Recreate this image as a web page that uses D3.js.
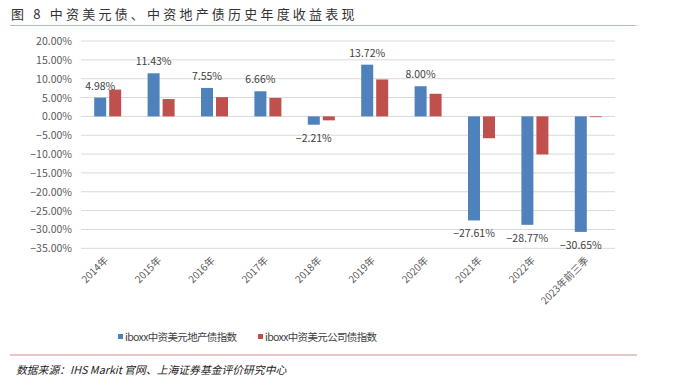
<html>
<script src="https://d3js.org/d3.v7.min.js"></script>
<body style="margin:0;background:#fff;">
<svg id="chart" width="690" height="384"></svg>
<script>
    // 年份与两条指数的年度收益 (%)
    let categories = ["2014年", "2015年", "2016年", "2017年", "2018年", "2019年", "2020年", "2021年", "2022年", "2023年前三季"];
    let realEstate = [4.98, 11.43, 7.55, 6.66, -2.21, 13.72, 8.00, -27.61, -28.77, -30.65];
    let corporate = [7.1, 4.6, 5.1, 4.9, -1.05, 9.8, 6.0, -5.8, -10.1, -0.15];
    let seriesNames = ["iboxx中资美元地产债指数", "iboxx中资美元公司债指数"];
    let yTicks = [20, 15, 10, 5, 0, -5, -10, -15, -20, -25, -30, -35];

    let colors = ["#4F81BD", "#C0504D"];
    let cjk = "'Noto Sans CJK SC', sans-serif";

    let svg = d3.select("#chart");

    // 标题
    svg.append("text")
        .attr("x", 11).attr("y", 19)
        .style("font-family", cjk).style("font-size", "13px").style("font-weight", "400")
        .style("letter-spacing", "3.2px")
        .attr("fill", "#333")
        .text("图 8 中资美元债、中资地产债历史年度收益表现");
    svg.append("line").attr("x1", 10).attr("x2", 636).attr("y1", 25.5).attr("y2", 25.5)
        .attr("stroke", "#e8a8a8").attr("stroke-width", 1.2);

    let x = d3.scaleBand().domain(categories).range([81, 615]);
    let y = d3.scaleLinear().domain([-35, 20]).range([248.3, 41]);

    // 网格线
    svg.append("g").selectAll("line").data(yTicks).join("line")
        .attr("x1", 81).attr("x2", 615)
        .attr("y1", d => y(d)).attr("y2", d => y(d))
        .attr("stroke", "#d9d9d9").attr("stroke-width", 1);

    // y 轴标签
    svg.append("g").selectAll("text").data(yTicks).join("text")
        .attr("x", 72).attr("y", d => y(d) + 4)
        .attr("text-anchor", "end")
        .style("font-family", cjk).style("font-size", "10.5px")
        .attr("fill", "#595959")
        .text(d => d3.format(".2f")(d) + "%");

    let barW = 12, gap = 3;
    let groups = [realEstate, corporate];
    groups.forEach((vals, i) => {
        svg.append("g").selectAll("rect").data(vals).join("rect")
            .attr("x", (d, j) => x(categories[j]) + x.bandwidth() / 2 - barW - gap / 2 + i * (barW + gap))
            .attr("width", barW)
            .attr("y", d => y(Math.max(0, d)))
            .attr("height", d => Math.max(0.8, Math.abs(y(d) - y(0))))
            .attr("fill", colors[i]);
    });

    // 数据标签 (地产债)
    svg.append("g").selectAll("text").data(realEstate).join("text")
        .attr("x", (d, j) => x(categories[j]) + x.bandwidth() / 2 - barW / 2 - gap / 2)
        .attr("y", d => d >= 0 ? y(d) - 8 : y(d) + 17)
        .attr("text-anchor", "middle")
        .style("font-family", cjk).style("font-size", "10.5px")
        .attr("fill", "#404040")
        .text(d => d3.format(".2f")(d) + "%");

    // x 轴标签
    svg.append("g").selectAll("text").data(categories).join("text")
        .attr("transform", d => `translate(${x(d) + x.bandwidth() / 2 + 1},${261}) rotate(-45)`)
        .attr("text-anchor", "end")
        .style("font-family", cjk).style("font-size", "10px")
        .attr("fill", "#595959")
        .text(d => d);

    // 图例
    let legendX = [118, 258];
    seriesNames.forEach((name, i) => {
        svg.append("rect").attr("x", legendX[i]).attr("y", 334).attr("width", 5).attr("height", 5).attr("fill", colors[i]);
        svg.append("text").attr("x", legendX[i] + 7).attr("y", 341)
            .style("font-family", cjk).style("font-size", "10.5px")
            .attr("textLength", 112).attr("lengthAdjust", "spacing")
            .attr("fill", "#404040")
            .text(name);
    });

    svg.append("line").attr("x1", 10).attr("x2", 637).attr("y1", 355).attr("y2", 355)
        .attr("stroke", "#d88c8c").attr("stroke-width", 1.2);

    svg.append("text")
        .attr("x", 16).attr("y", 374)
        .style("font-family", cjk).style("font-size", "10.8px").style("font-style", "italic")
        .attr("fill", "#222")
        .text("数据来源：IHS Markit 官网、上海证券基金评价研究中心");
</script>
</body>
</html>
